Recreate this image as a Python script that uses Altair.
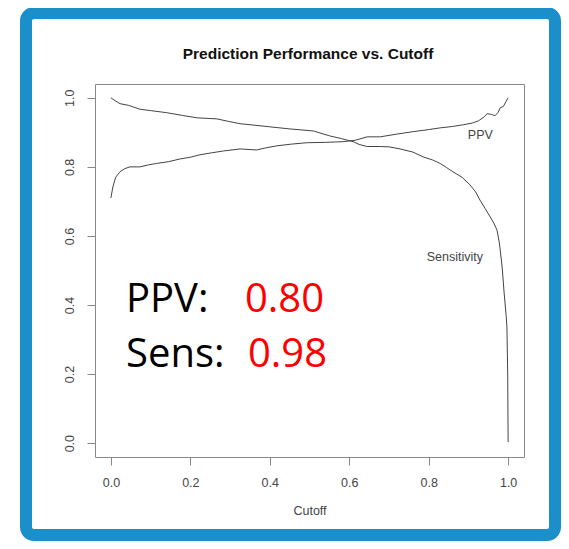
import altair as alt
import pandas as pd

# Curve data
ppv_cutoff = [0.0, 0.005, 0.012, 0.023, 0.035, 0.048, 0.073, 0.095, 0.115, 0.145,
              0.174, 0.2, 0.224, 0.255, 0.283, 0.325, 0.367, 0.39, 0.418, 0.455,
              0.494, 0.54, 0.584, 0.615, 0.645, 0.678, 0.72, 0.761, 0.80, 0.829,
              0.86, 0.887, 0.91, 0.925, 0.94, 0.947, 0.958, 0.967, 0.975, 0.98,
              0.988, 0.995, 1.0]
ppv_value = [0.71, 0.742, 0.77, 0.786, 0.795, 0.80, 0.80, 0.806, 0.81, 0.815,
             0.823, 0.828, 0.835, 0.841, 0.846, 0.852, 0.849, 0.855, 0.861, 0.866,
             0.87, 0.871, 0.873, 0.877, 0.887, 0.887, 0.895, 0.902, 0.908, 0.913,
             0.917, 0.922, 0.927, 0.933, 0.945, 0.954, 0.952, 0.948, 0.958, 0.971,
             0.975, 0.99, 1.0]

sens_cutoff = [0.0, 0.01, 0.023, 0.045, 0.073, 0.1, 0.14, 0.18, 0.217, 0.267,
               0.295, 0.325, 0.36, 0.4, 0.45, 0.51, 0.55, 0.58, 0.61, 0.625,
               0.645, 0.678, 0.70, 0.728, 0.76, 0.786, 0.81, 0.829, 0.845, 0.861,
               0.884, 0.904, 0.918, 0.929, 0.942, 0.955, 0.965, 0.972, 0.978, 0.985,
               0.99, 0.995, 0.997, 0.999, 1.0]
sens_value = [1.0, 0.992, 0.983, 0.978, 0.967, 0.963, 0.957, 0.949, 0.942, 0.939,
              0.932, 0.925, 0.921, 0.916, 0.91, 0.904, 0.89, 0.882, 0.873, 0.865,
              0.859, 0.859, 0.858, 0.852, 0.843, 0.829, 0.82, 0.81, 0.798, 0.786,
              0.77, 0.748, 0.728, 0.704, 0.68, 0.655, 0.635, 0.617, 0.58, 0.51,
              0.435, 0.37, 0.336, 0.2, 0.003]

# Curve labels
curve_labels = ["PPV", "Sensitivity"]
curve_label_x = [0.93, 0.866]
curve_label_y = [0.893, 0.54]

# Big annotation
note_labels = ["PPV:", "Sens:"]
note_values = ["0.80", "0.98"]
note_label_x = [0.038, 0.038]
note_value_x = [0.3375, 0.345]
note_y = [0.38, 0.222]

x_ticks = [0.0, 0.2, 0.4, 0.6, 0.8, 1.0]
y_ticks = [0.0, 0.2, 0.4, 0.6, 0.8, 1.0]

title_text = "Prediction Performance vs. Cutoff"

curves = pd.concat([
    pd.DataFrame({"cutoff": ppv_cutoff, "value": ppv_value, "series": "PPV"}),
    pd.DataFrame({"cutoff": sens_cutoff, "value": sens_value, "series": "Sensitivity"}),
])
labels_df = pd.DataFrame({"x": curve_label_x, "y": curve_label_y, "t": curve_labels})
notes_df = pd.DataFrame({"lx": note_label_x, "vx": note_value_x, "y": note_y,
                         "l": note_labels, "v": note_values})

xscale = alt.Scale(domain=[-0.04, 1.04], nice=False, zero=False)
yscale = alt.Scale(domain=[-0.04, 1.04], nice=False, zero=False)

axis_common = dict(grid=False, domain=False, tickColor="#888", tickSize=8,
                   labelColor="#444", labelFont="Liberation Sans", labelFontSize=12.5,
                   format=".1f")

lines = alt.Chart(curves).mark_line(color="#444", strokeWidth=1).encode(
    x=alt.X("cutoff:Q", scale=xscale,
            axis=alt.Axis(values=x_ticks, labelPadding=11, title="Cutoff",
                          titleFont="Liberation Sans", titleFontSize=12.5,
                          titleFontWeight="normal", titleColor="#444",
                          titlePadding=16, **axis_common)),
    y=alt.Y("value:Q", scale=yscale,
            axis=alt.Axis(values=y_ticks, labelAngle=270, labelAlign="center",
                          labelBaseline="bottom", labelPadding=11, title=None,
                          **axis_common)),
    detail="series:N",
)

curve_text = alt.Chart(labels_df).mark_text(
    font="Liberation Sans", fontSize=12.5, color="#444"
).encode(x=alt.X("x:Q", scale=xscale), y=alt.Y("y:Q", scale=yscale), text="t:N")

note_l = alt.Chart(notes_df).mark_text(
    font="Open Sans", fontSize=40, color="#000", align="left", baseline="alphabetic"
).encode(x=alt.X("lx:Q", scale=xscale), y=alt.Y("y:Q", scale=yscale), text="l:N")

note_v = alt.Chart(notes_df).mark_text(
    font="Open Sans", fontSize=40, color="#ff0000", align="left", baseline="alphabetic"
).encode(x=alt.X("vx:Q", scale=xscale), y=alt.Y("y:Q", scale=yscale), text="v:N")

title_mark = alt.Chart(alt.Data(values=[{"t": title_text}])).mark_text(
    font="Liberation Sans", fontSize=15.5, fontWeight="bold", color="#111",
    align="center", baseline="alphabetic"
).encode(x=alt.value(213), y=alt.value(-25), text="t:N")

frame = alt.Chart(alt.Data(values=[{}])).mark_rect(
    fill="transparent", stroke="#1a8fca", strokeWidth=12, cornerRadius=8
).encode(x=alt.value(-69), x2=alt.value(460), y=alt.value(-71), y2=alt.value(451))

chart = alt.layer(frame, lines, curve_text, note_l, note_v, title_mark).properties(
    width=429, height=373,
    autosize=alt.AutoSizeParams(type="none"),
    padding={"left": 87, "top": 76, "right": 37, "bottom": 84},
    background="white",
).configure_view(stroke="#888", strokeWidth=1)

chart.save("out.html", embed_options={"renderer": "svg", "actions": False})
